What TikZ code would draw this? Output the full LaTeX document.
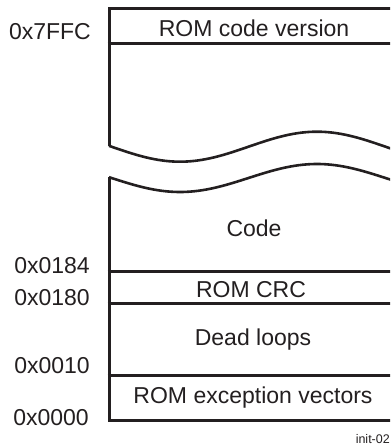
\documentclass[tikz,border=0pt]{standalone}
\usepackage{fontspec}
\setmainfont{Liberation Sans}
\definecolor{ink}{HTML}{231F20}
\begin{document}
\begin{tikzpicture}[x=1pt,y=-1pt,
  edge/.style={draw=ink,line width=3pt},
  wave/.style={draw=ink,line width=2.6pt},
  lbl/.style={text=ink,inner sep=0pt,font=\fontsize{23}{27}\selectfont},
  addr/.style={lbl,anchor=base east},
  field/.style={lbl,anchor=base},
  tag/.style={text=ink,inner sep=0pt,anchor=base east,font=\fontsize{12.5}{14}\selectfont}]
\useasboundingbox (0,0) rectangle (390,446);
\begin{scope}
\clip (0,0) rectangle (390,446);
% upper part
\coordinate (tl) at (109,8.5);
\coordinate (tr) at (402,8.5);
\coordinate (wl) at (109,146);
\draw[edge,line join=miter] (wl) -- (tl) -- (tr);
\draw[edge] (107.5,44) -- (402,44);
\draw[wave] plot[domain=109:402,samples=80,smooth] (\x,{146.7+15*cos(1.31387*(\x-180))});
% lower part
\draw[wave] plot[domain=109:402,samples=80,smooth] (\x,{178+14*cos(1.31387*(\x-180))});
\coordinate (ll) at (109,177);
\coordinate (bl) at (109,420);
\coordinate (br) at (402,420);
\draw[edge,line join=miter] (ll) -- (bl) -- (br);
\draw[edge] (107.5,271.5) -- (402,271.5);
\draw[edge] (107.5,303.5) -- (402,303.5);
\draw[edge] (107.5,375.5) -- (402,375.5);
\end{scope}
% fields
\node[field] (ver) at (254,37) {ROM code version};
\node[field] (code) at (254,236) {Code};
\node[field] (crc) at (251,297) {ROM CRC};
\node[field] (dead) at (253,345) {Dead loops};
\node[field] (exc) at (253,403) {ROM exception vectors};
% addresses
\node[addr] (a1) at (91,39.5) {0x7FFC};
\node[addr] (a2) at (90,273) {0x0184};
\node[addr] (a3) at (90,305) {0x0180};
\node[addr] (a4) at (90,373) {0x0010};
\node[addr] (a5) at (89,425) {0x0000};
\node[tag] (id) at (390,443) {init-02};
\end{tikzpicture}
\end{document}
